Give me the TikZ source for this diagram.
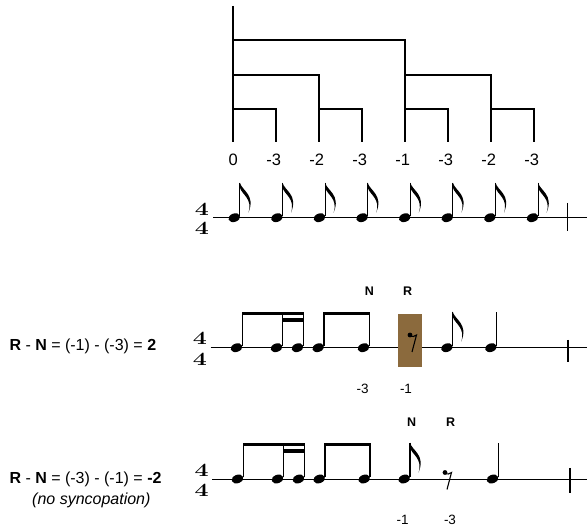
\documentclass[tikz,border=0pt]{standalone}
\usepackage{fontspec}
\setsansfont{Liberation Sans}
\usetikzlibrary{shapes.geometric,positioning}
\definecolor{restbrown}{RGB}{139,106,61}
\tikzset{
  treeline/.style={line width=1.8pt},
  staffline/.style={line width=0.8pt},
  barline/.style={line width=1.1pt},
  stemline/.style={line width=1.1pt},
  notehead/.style={ellipse, fill, inner sep=0pt, minimum width=12pt, minimum height=8.4pt, rotate=20},
  leaflabel/.style={font=\sffamily\fontsize{16.5}{16.5}\selectfont, inner sep=0pt},
  marklabel/.style={font=\sffamily\bfseries\fontsize{12.5}{12.5}\selectfont, inner sep=0pt},
  countlabel/.style={font=\sffamily\fontsize{13.5}{13.5}\selectfont, inner sep=0pt},
  formula/.style={font=\sffamily\fontsize{16}{16}\selectfont, inner sep=0pt},
  meter/.style={font=\rmfamily\bfseries\fontsize{25}{25}\selectfont, inner sep=0pt},
  restbox/.style={fill=restbrown, minimum width=23.4pt, minimum height=52.4pt, inner sep=0pt},
  flag/.pic={\fill (0,0) .. controls (2,8) and (16,12) .. (8.5,30) .. controls (13,16) and (2,12) .. (0,5) -- cycle;},
  eighthrest/.pic={\fill (0,0) circle (2.4); \draw[line width=1.1pt] (0,0) .. controls (2,2.5) and (5,1.5) .. (6.5,0) -- (2,17);}
}
\begin{document}
\begin{tikzpicture}[x=1pt, y=-1pt]
  \useasboundingbox (0,0) rectangle (587,529);

  % metric tree
  \coordinate (top) at (233.3,6);
  \coordinate (l1) at (0,40);
  \coordinate (l2) at (0,75);
  \coordinate (l3) at (0,109);
  \foreach \lab/\dx [count=\i from 0] in {0/0,-3/-2.5,-2/-2.5,-3/-2.5,-1/-2.5,-3/-2.5,-2/-2.5,-3/-2.5} {
    \coordinate (leaf\i) at ({233.3+43*\i},142);
    \node[leaflabel] (t\i) at ({233.3+43*\i+\dx},159.5) {\lab};
  }
  \draw[treeline] (top) -- (leaf0);
  \draw[treeline] (leaf0 |- l1) -| (leaf4);
  \draw[treeline] (leaf0 |- l2) -| (leaf2);
  \draw[treeline] (leaf4 |- l2) -| (leaf6);
  \foreach \a/\b in {0/1,2/3,4/5,6/7}
    \draw[treeline] (leaf\a |- l3) -| (leaf\b);

  % eight eighth notes
  \node[meter] (m1a) at (202,209.5) {\scalebox{1}[0.75]{4}};
  \node[meter] (m1b) at (202,228) {\scalebox{1}[0.75]{4}};
  \draw[staffline] (213,217.7) -- (587,217.7);
  \draw[barline] (567.7,203) -- (567.7,230.7);
  \foreach \i in {0,...,7} {
    \node[notehead] (a\i) at ({234.3+42.6*\i},217.7) {};
    \draw[stemline] ([xshift=5.6pt,yshift=1.5pt]a\i.center) -- ++(0,-33.5) coordinate (as\i);
    \pic at (as\i) {flag};
  }

  % syncopated rhythm
  \node[formula, anchor=west] (eq2) at (9.3,346.7) {\textbf{R} - \textbf{N} = (-1) - (-3) = \textbf{2}};
  \node[meter] (m2a) at (200,338.3) {\scalebox{1}[0.75]{4}};
  \node[meter] (m2b) at (200,359) {\scalebox{1}[0.75]{4}};
  \draw[staffline] (210.7,347.7) -- (587,347.7);
  \draw[barline] (568,340) -- (568,361.7);
  \foreach \x [count=\i] in {236.5,276.5,297.5,318.2,363.5,446.9,490.9} {
    \node[notehead] (b\i) at (\x,347.7) {};
    \draw[stemline] ([xshift=5.8pt,yshift=1.5pt]b\i.center) -- ++(0,-34.5) coordinate (bs\i);
  }
  \fill ([xshift=-0.55pt]bs1) rectangle ([xshift=0.55pt,yshift=-3.4pt]bs3);
  \fill ([xshift=-0.55pt,yshift=-6.6pt]bs2) rectangle ([xshift=0.55pt,yshift=-10pt]bs3);
  \fill ([xshift=-0.55pt]bs4) rectangle ([xshift=0.55pt,yshift=-3.4pt]bs5);
  \pic at (bs6) {flag};
  \node[restbox] (rb) at (410,340.5) {};
  \pic at (410,335) {eighthrest};
  \node[marklabel] (n2) at (369.3,291) {N};
  \node[marklabel] (r2) at (407.7,291) {R};
  \node[countlabel] (c2n) at (362.7,389) {-3};
  \node[countlabel] (c2r) at (406,389) {-1};

  % unsyncopated rhythm
  \node[formula, anchor=west] (eq3) at (9.3,479.3) {\textbf{R} - \textbf{N} = (-3) - (-1) = \textbf{-2}};
  \node[formula, anchor=east] (nosync) at (150.7,500) {\itshape (no syncopation)};
  \node[meter] (m3a) at (201.7,470) {\scalebox{1}[0.75]{4}};
  \node[meter] (m3b) at (201.7,490) {\scalebox{1}[0.75]{4}};
  \draw[staffline] (212.3,479) -- (587,479);
  \draw[barline] (570,468) -- (570,493);
  \foreach \x [count=\i] in {237.5,277.5,298.5,319.2,364.2,404.2,492.5} {
    \node[notehead] (c\i) at (\x,479) {};
    \draw[stemline] ([xshift=5.8pt,yshift=1.5pt]c\i.center) -- ++(0,-34.8) coordinate (cs\i);
  }
  \fill ([xshift=-0.55pt]cs1) rectangle ([xshift=0.55pt,yshift=-3.4pt]cs3);
  \fill ([xshift=-0.55pt,yshift=-6.6pt]cs2) rectangle ([xshift=0.55pt,yshift=-10pt]cs3);
  \fill ([xshift=-0.55pt]cs4) rectangle ([xshift=0.55pt,yshift=-3.4pt]cs5);
  \pic at (cs6) {flag};
  \pic at (445,472.5) {eighthrest};
  \node[marklabel] (n3) at (411.7,422.7) {N};
  \node[marklabel] (r3) at (450.7,422.7) {R};
  \node[countlabel] (c3n) at (402.7,520) {-1};
  \node[countlabel] (c3r) at (450,520) {-3};
\end{tikzpicture}
\end{document}
